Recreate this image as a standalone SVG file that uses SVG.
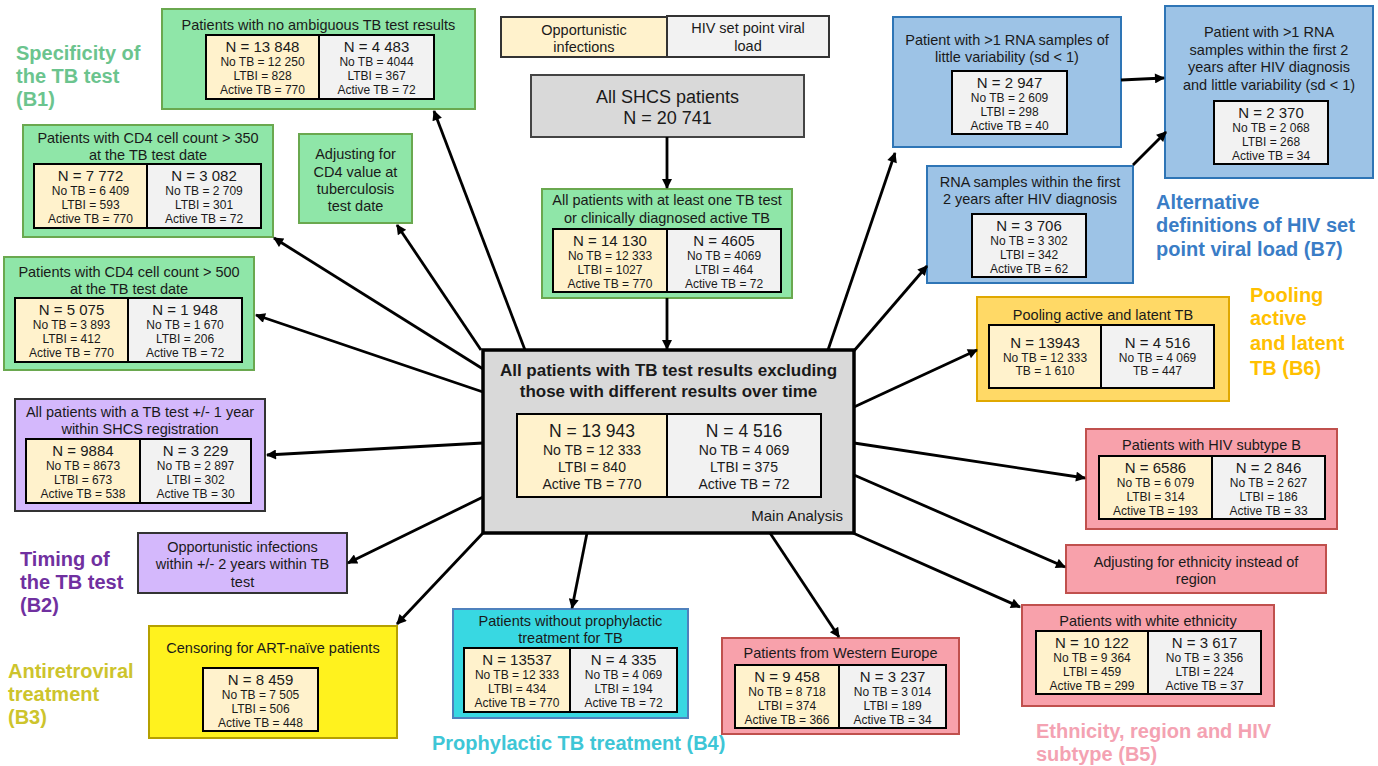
<svg xmlns="http://www.w3.org/2000/svg" width="1378" height="766" viewBox="0 0 1378 766">
<defs>
<style>
text{font-family:"Liberation Sans",Arial,sans-serif;fill:#1a1a1a;text-anchor:middle}
.ttl{font-size:14.5px}
.n{font-size:15px}
.s{font-size:12px}
.lab{font-weight:bold;font-size:20px;text-anchor:start}
.green{fill:#8fe6a8;stroke:#6aa84f;stroke-width:2}
.blue{fill:#9dc3e6;stroke:#2e75b6;stroke-width:2}
.pink{fill:#f8a1ab;stroke:#c0504d;stroke-width:2}
.purple{fill:#d4b8fc;stroke:#333;stroke-width:2}
.cl{fill:#fff2cc;stroke:#000;stroke-width:2}
.cr{fill:#f2f2f2;stroke:#000;stroke-width:2}
.conn line{stroke:#000;stroke-width:2.8;marker-end:url(#ah)}
</style>
<marker id="ah" viewBox="0 0 10 10" refX="9" refY="5" markerWidth="12" markerHeight="10" markerUnits="userSpaceOnUse" orient="auto"><path d="M0,0 L10,5 L0,10 z" fill="#000"/></marker>
</defs>
<rect width="1378" height="766" fill="#fff"/>

<!-- Category labels -->
<g id="labels">
<text class="lab" x="16" y="60" style="fill:#6bc48e">Specificity of</text>
<text class="lab" x="16" y="83" style="fill:#6bc48e">the TB test</text>
<text class="lab" x="16" y="106" style="fill:#6bc48e">(B1)</text>
<text class="lab" x="20" y="566" style="fill:#7030a0">Timing of</text>
<text class="lab" x="20" y="589" style="fill:#7030a0">the TB test</text>
<text class="lab" x="20" y="612" style="fill:#7030a0">(B2)</text>
<text class="lab" x="8" y="678" style="fill:#cdc42c">Antiretroviral</text>
<text class="lab" x="8" y="701" style="fill:#cdc42c">treatment</text>
<text class="lab" x="8" y="724" style="fill:#cdc42c">(B3)</text>
<text class="lab" x="432" y="750" style="fill:#3ec6d6">Prophylactic TB treatment (B4)</text>
<text class="lab" x="1036" y="738" style="fill:#f4a2b2">Ethnicity, region and HIV</text>
<text class="lab" x="1036" y="761" style="fill:#f4a2b2">subtype (B5)</text>
<text class="lab" x="1250" y="302" style="fill:#ffc000">Pooling</text>
<text class="lab" x="1250" y="325" style="fill:#ffc000">active</text>
<text class="lab" x="1250" y="350" style="fill:#ffc000">and latent</text>
<text class="lab" x="1250" y="375" style="fill:#ffc000">TB (B6)</text>
<text class="lab" x="1156" y="209" style="fill:#3a7dc6">Alternative</text>
<text class="lab" x="1156" y="232" style="fill:#3a7dc6">definitions of HIV set</text>
<text class="lab" x="1156" y="256" style="fill:#3a7dc6">point viral load (B7)</text>
</g>

<!-- Legend -->
<g id="legend">
<rect x="501" y="17" width="166" height="40" fill="#fff2cc" stroke="#333" stroke-width="2"/>
<text class="ttl" x="584" y="35">Opportunistic</text>
<text class="ttl" x="584" y="52">infections</text>
<rect x="667" y="16" width="162" height="41" fill="#f2f2f2" stroke="#333" stroke-width="2"/>
<text class="ttl" x="748" y="33">HIV set point viral</text>
<text class="ttl" x="748" y="51">load</text>
</g>

<g id="all-shcs">
<rect x="531" y="75" width="273" height="62" fill="#d9d9d9" stroke="#444" stroke-width="2"/>
<text x="667.5" y="103" style="font-size:18px">All SHCS patients</text>
<text x="667.5" y="124" style="font-size:18px">N = 20 741</text>
</g>

<g id="at-least-one-test">
<rect class="green" x="542" y="189" width="250" height="109"/>
<text class="ttl" x="667" y="205">All patients with at least one TB test</text>
<text class="ttl" x="667" y="223">or clinically diagnosed active TB</text>
<rect class="cl" x="553" y="229" width="114" height="63"/>
<rect class="cr" x="667" y="229" width="114" height="63"/>
<text class="n" x="610" y="246">N = 14 130</text>
<text class="s" x="610" y="260">No TB = 12 333</text>
<text class="s" x="610" y="274">LTBI = 1027</text>
<text class="s" x="610" y="288">Active TB = 770</text>
<text class="n" x="724" y="246">N = 4605</text>
<text class="s" x="724" y="260">No TB = 4069</text>
<text class="s" x="724" y="274">LTBI = 464</text>
<text class="s" x="724" y="288">Active TB = 72</text>
</g>

<g id="main-analysis">
<rect x="483" y="350" width="371" height="183" fill="#d9d9d9" stroke="#000" stroke-width="3.5"/>
<text x="668.5" y="376" style="font-size:17px;font-weight:bold">All patients with TB test results excluding</text>
<text x="668.5" y="397" style="font-size:17px;font-weight:bold">those with different results over time</text>
<rect class="cl" x="517" y="414" width="150" height="83"/>
<rect class="cr" x="667" y="414" width="154" height="83"/>
<text x="592" y="437" style="font-size:17.5px">N = 13 943</text>
<text x="592" y="455" style="font-size:14px">No TB = 12 333</text>
<text x="592" y="472" style="font-size:14px">LTBI = 840</text>
<text x="592" y="489" style="font-size:14px">Active TB = 770</text>
<text x="744" y="437" style="font-size:17.5px">N = 4 516</text>
<text x="744" y="455" style="font-size:14px">No TB = 4 069</text>
<text x="744" y="472" style="font-size:14px">LTBI = 375</text>
<text x="744" y="489" style="font-size:14px">Active TB = 72</text>
<text x="843" y="521" style="font-size:15px;text-anchor:end">Main Analysis</text>
</g>

<g id="b1-unambiguous">
<rect class="green" x="162" y="9" width="313" height="100"/>
<text class="ttl" x="318.5" y="30">Patients with no ambiguous TB test results</text>
<rect class="cl" x="206" y="35" width="113" height="64"/>
<rect class="cr" x="319" y="35" width="115" height="64"/>
<text class="n" x="262.5" y="52">N = 13 848</text>
<text class="s" x="262.5" y="66">No TB = 12 250</text>
<text class="s" x="262.5" y="80">LTBI = 828</text>
<text class="s" x="262.5" y="94">Active TB = 770</text>
<text class="n" x="376.5" y="52">N = 4 483</text>
<text class="s" x="376.5" y="66">No TB = 4044</text>
<text class="s" x="376.5" y="80">LTBI = 367</text>
<text class="s" x="376.5" y="94">Active TB = 72</text>
</g>

<g id="b1-cd4-350">
<rect class="green" x="23" y="125" width="250" height="112"/>
<text class="ttl" x="148" y="143">Patients with CD4 cell count &gt; 350</text>
<text class="ttl" x="148" y="160">at the TB test date</text>
<rect class="cl" x="34" y="164" width="113" height="64"/>
<rect class="cr" x="147" y="164" width="114" height="64"/>
<text class="n" x="90.5" y="181">N = 7 772</text>
<text class="s" x="90.5" y="195">No TB = 6 409</text>
<text class="s" x="90.5" y="209">LTBI = 593</text>
<text class="s" x="90.5" y="223">Active TB = 770</text>
<text class="n" x="204" y="181">N = 3 082</text>
<text class="s" x="204" y="195">No TB = 2 709</text>
<text class="s" x="204" y="209">LTBI = 301</text>
<text class="s" x="204" y="223">Active TB = 72</text>
</g>

<g id="b1-adjust-cd4">
<rect class="green" x="299" y="134" width="113" height="89"/>
<text class="ttl" x="355.5" y="159">Adjusting for</text>
<text class="ttl" x="355.5" y="176.5">CD4 value at</text>
<text class="ttl" x="355.5" y="193.5">tuberculosis</text>
<text class="ttl" x="355.5" y="211">test date</text>
</g>

<g id="b1-cd4-500">
<rect class="green" x="4" y="257" width="250" height="113"/>
<text class="ttl" x="129" y="277">Patients with CD4 cell count &gt; 500</text>
<text class="ttl" x="129" y="294">at the TB test date</text>
<rect class="cl" x="15" y="298" width="113" height="64"/>
<rect class="cr" x="128" y="298" width="114" height="64"/>
<text class="n" x="71.5" y="315">N = 5 075</text>
<text class="s" x="71.5" y="329">No TB = 3 893</text>
<text class="s" x="71.5" y="343">LTBI = 412</text>
<text class="s" x="71.5" y="357">Active TB = 770</text>
<text class="n" x="185" y="315">N = 1 948</text>
<text class="s" x="185" y="329">No TB = 1 670</text>
<text class="s" x="185" y="343">LTBI = 206</text>
<text class="s" x="185" y="357">Active TB = 72</text>
</g>

<g id="b2-one-year">
<rect class="purple" x="15" y="399" width="250" height="112"/>
<text class="ttl" x="140" y="417">All patients with a TB test +/- 1 year</text>
<text class="ttl" x="140" y="434">within SHCS registration</text>
<rect class="cl" x="26" y="439" width="114" height="64"/>
<rect class="cr" x="140" y="439" width="111" height="64"/>
<text class="n" x="83" y="456">N = 9884</text>
<text class="s" x="83" y="470">No TB = 8673</text>
<text class="s" x="83" y="484">LTBI = 673</text>
<text class="s" x="83" y="498">Active TB = 538</text>
<text class="n" x="195.5" y="456">N = 3 229</text>
<text class="s" x="195.5" y="470">No TB = 2 897</text>
<text class="s" x="195.5" y="484">LTBI = 302</text>
<text class="s" x="195.5" y="498">Active TB = 30</text>
</g>

<g id="b2-opportunistic">
<rect class="purple" x="138" y="533" width="209" height="60"/>
<text class="ttl" x="242.5" y="552">Opportunistic infections</text>
<text class="ttl" x="242.5" y="569">within +/- 2 years within TB</text>
<text class="ttl" x="242.5" y="587">test</text>
</g>

<g id="b3-censoring">
<rect x="149" y="626" width="248" height="112" fill="#fff21e" stroke="#b5a000" stroke-width="2"/>
<text class="ttl" x="273" y="653">Censoring for ART-naïve patients</text>
<rect class="cl" x="203" y="668" width="115" height="63"/>
<text class="n" x="260.5" y="685">N = 8 459</text>
<text class="s" x="260.5" y="699">No TB = 7 505</text>
<text class="s" x="260.5" y="713">LTBI = 506</text>
<text class="s" x="260.5" y="727">Active TB = 448</text>
</g>

<g id="b4-prophylactic">
<rect x="453" y="609" width="235" height="109" fill="#38d8e2" stroke="#4f81bd" stroke-width="2"/>
<text class="ttl" x="570.5" y="626">Patients without prophylactic</text>
<text class="ttl" x="570.5" y="643">treatment for TB</text>
<rect class="cl" x="464" y="648" width="106" height="64"/>
<rect class="cr" x="570" y="648" width="107" height="64"/>
<text class="n" x="517" y="665">N = 13537</text>
<text class="s" x="517" y="679">No TB = 12 333</text>
<text class="s" x="517" y="693">LTBI = 434</text>
<text class="s" x="517" y="707">Active TB = 770</text>
<text class="n" x="623.5" y="665">N = 4 335</text>
<text class="s" x="623.5" y="679">No TB = 4 069</text>
<text class="s" x="623.5" y="693">LTBI = 194</text>
<text class="s" x="623.5" y="707">Active TB = 72</text>
</g>

<g id="b5-western-europe">
<rect class="pink" x="722" y="638" width="237" height="96"/>
<text class="ttl" x="840.5" y="658">Patients from Western Europe</text>
<rect class="cl" x="735" y="665" width="104" height="63"/>
<rect class="cr" x="839" y="665" width="107" height="63"/>
<text class="n" x="787" y="682">N = 9 458</text>
<text class="s" x="787" y="696">No TB = 8 718</text>
<text class="s" x="787" y="710">LTBI = 374</text>
<text class="s" x="787" y="724">Active TB = 366</text>
<text class="n" x="892.5" y="682">N = 3 237</text>
<text class="s" x="892.5" y="696">No TB = 3 014</text>
<text class="s" x="892.5" y="710">LTBI = 189</text>
<text class="s" x="892.5" y="724">Active TB = 34</text>
</g>

<g id="b5-white-ethnicity">
<rect class="pink" x="1022" y="605" width="252" height="101"/>
<text class="ttl" x="1148" y="626">Patients with white ethnicity</text>
<rect class="cl" x="1036" y="631" width="112" height="63"/>
<rect class="cr" x="1148" y="631" width="113" height="63"/>
<text class="n" x="1092" y="648">N = 10 122</text>
<text class="s" x="1092" y="662">No TB = 9 364</text>
<text class="s" x="1092" y="676">LTBI = 459</text>
<text class="s" x="1092" y="690">Active TB = 299</text>
<text class="n" x="1204.5" y="648">N = 3 617</text>
<text class="s" x="1204.5" y="662">No TB = 3 356</text>
<text class="s" x="1204.5" y="676">LTBI = 224</text>
<text class="s" x="1204.5" y="690">Active TB = 37</text>
</g>

<g id="b5-adjust-ethnicity">
<rect class="pink" x="1066" y="545" width="260" height="48"/>
<text class="ttl" x="1196" y="567">Adjusting for ethnicity instead of</text>
<text class="ttl" x="1196" y="584">region</text>
</g>

<g id="b5-subtype-b">
<rect class="pink" x="1086" y="429" width="251" height="100"/>
<text class="ttl" x="1211.5" y="450">Patients with HIV subtype B</text>
<rect class="cl" x="1099" y="456" width="113" height="63"/>
<rect class="cr" x="1212" y="456" width="113" height="63"/>
<text class="n" x="1155.5" y="473">N = 6586</text>
<text class="s" x="1155.5" y="487">No TB = 6 079</text>
<text class="s" x="1155.5" y="501">LTBI = 314</text>
<text class="s" x="1155.5" y="515">Active TB = 193</text>
<text class="n" x="1268.5" y="473">N = 2 846</text>
<text class="s" x="1268.5" y="487">No TB = 2 627</text>
<text class="s" x="1268.5" y="501">LTBI = 186</text>
<text class="s" x="1268.5" y="515">Active TB = 33</text>
</g>

<g id="b6-pooling">
<rect x="977" y="297" width="252" height="104" fill="#ffd966" stroke="#e0a800" stroke-width="2"/>
<text class="ttl" x="1103" y="320">Pooling active and latent TB</text>
<rect class="cl" x="989" y="325" width="112" height="63"/>
<rect class="cr" x="1101" y="325" width="113" height="63"/>
<text class="n" x="1045" y="348">N = 13943</text>
<text class="s" x="1045" y="362">No TB = 12 333</text>
<text class="s" x="1045" y="375">TB = 1 610</text>
<text class="n" x="1157.5" y="348">N = 4 516</text>
<text class="s" x="1157.5" y="362">No TB = 4 069</text>
<text class="s" x="1157.5" y="375">TB = 447</text>
</g>

<g id="b7-little-variability">
<rect class="blue" x="893" y="17" width="228" height="130"/>
<text class="ttl" x="1007" y="45">Patient with &gt;1 RNA samples of</text>
<text class="ttl" x="1007" y="62">little variability (sd &lt; 1)</text>
<rect class="cr" x="952" y="71" width="115" height="63"/>
<text class="n" x="1009.5" y="88">N = 2 947</text>
<text class="s" x="1009.5" y="102">No TB = 2 609</text>
<text class="s" x="1009.5" y="116">LTBI = 298</text>
<text class="s" x="1009.5" y="130">Active TB = 40</text>
</g>

<g id="b7-first-two-years">
<rect class="blue" x="927" y="166" width="206" height="117"/>
<text class="ttl" x="1030" y="187">RNA samples within the first</text>
<text class="ttl" x="1030" y="204">2 years after HIV diagnosis</text>
<rect class="cr" x="972" y="214" width="114" height="63"/>
<text class="n" x="1029" y="231">N = 3 706</text>
<text class="s" x="1029" y="245">No TB = 3 302</text>
<text class="s" x="1029" y="259">LTBI = 342</text>
<text class="s" x="1029" y="273">Active TB = 62</text>
</g>

<g id="b7-combined">
<rect class="blue" x="1165" y="6" width="208" height="172"/>
<text class="ttl" x="1269" y="37">Patient with &gt;1 RNA</text>
<text class="ttl" x="1269" y="55">samples within the first 2</text>
<text class="ttl" x="1269" y="72">years after HIV diagnosis</text>
<text class="ttl" x="1269" y="90">and little variability (sd &lt; 1)</text>
<rect class="cr" x="1214" y="101" width="114" height="63"/>
<text class="n" x="1271" y="118">N = 2 370</text>
<text class="s" x="1271" y="132">No TB = 2 068</text>
<text class="s" x="1271" y="146">LTBI = 268</text>
<text class="s" x="1271" y="160">Active TB = 34</text>
</g>

<g id="connectors" class="conn">
<line x1="667" y1="137" x2="667" y2="188"/>
<line x1="667" y1="298" x2="667" y2="349"/>
<line x1="525" y1="350" x2="434" y2="111"/>
<line x1="481" y1="350" x2="397" y2="225"/>
<line x1="483" y1="369" x2="274" y2="238"/>
<line x1="483" y1="392" x2="256" y2="315"/>
<line x1="483" y1="443" x2="267" y2="455"/>
<line x1="483" y1="497" x2="348" y2="563"/>
<line x1="483" y1="533" x2="397" y2="624"/>
<line x1="587" y1="533" x2="572" y2="608"/>
<line x1="770" y1="533" x2="839" y2="637"/>
<line x1="853" y1="533" x2="1020" y2="607"/>
<line x1="854" y1="475" x2="1065" y2="567"/>
<line x1="854" y1="443" x2="1085" y2="478"/>
<line x1="854" y1="407" x2="977" y2="350"/>
<line x1="853" y1="352" x2="927" y2="266"/>
<line x1="828" y1="350" x2="895" y2="153"/>
<line x1="1121" y1="80" x2="1164" y2="78"/>
<line x1="1133" y1="165" x2="1166" y2="132"/>
</g>
</svg>
